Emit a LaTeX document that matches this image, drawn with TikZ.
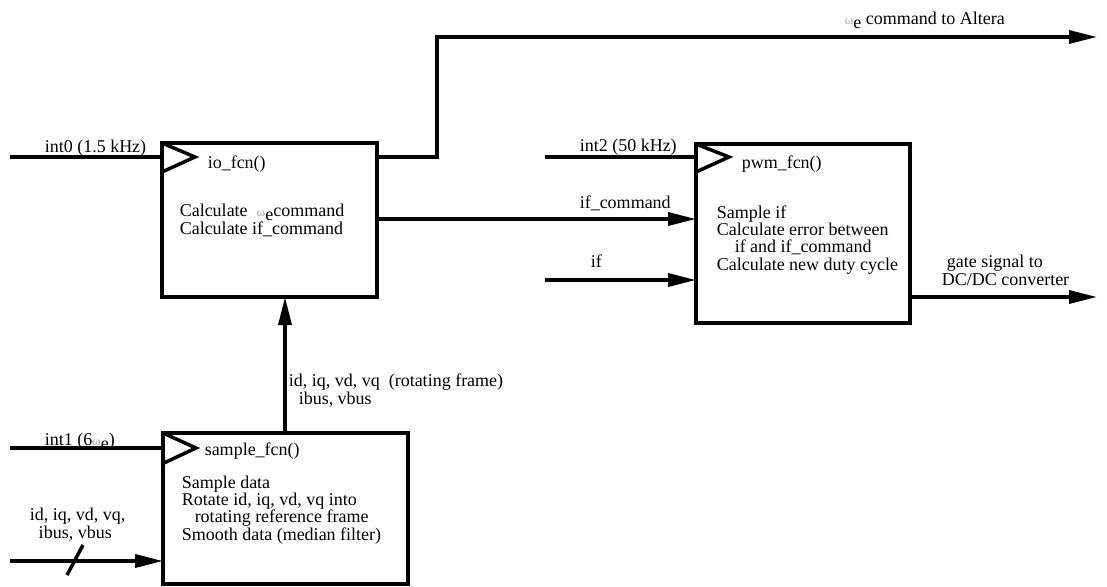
\documentclass[tikz,border=0pt]{standalone}
\usepackage{fontspec}
\setmainfont{Liberation Serif}
\usetikzlibrary{arrows.meta,calc}
\definecolor{omg}{gray}{0.68}
\newcommand{\om}{{\color{omg}\fontsize{13}{13}\selectfont ω}}
\newcommand{\sube}{\raisebox{-4pt}{e}}
\begin{document}
\begin{tikzpicture}[x=1pt,y=-1pt, line width=3.5pt,
 box/.style={draw, line width=3.5pt, anchor=north west, inner sep=0pt, outer sep=0pt},
 txt/.style={anchor=base west, inner sep=0pt, font=\fontsize{18}{17.3}\selectfont, align=left},
 arr/.style={-{Triangle[length=28pt,width=13pt]}, line width=3.5pt},
 clk/.style={line width=3.5pt, line join=miter}]
\useasboundingbox (0,0) rectangle (1107,586);

% boxes
\node[box, minimum width=215pt, minimum height=154pt] (io) at (162,143) {};
\node[box, minimum width=214pt, minimum height=179pt] (pwm) at (696,144) {};
\node[box, minimum width=245pt, minimum height=151pt] (smp) at (163,433) {};

% free ends
\coordinate (in0) at (10,157);
\coordinate (alt) at (1097,37);
\coordinate (in2) at (545,157);
\coordinate (inif) at (545,280);
\coordinate (gate) at (1097,297);
\coordinate (in1) at (10,448);
\coordinate (in3) at (10,561);
\coordinate (sla) at (83,545);
\coordinate (slb) at (67,575);

% io_fcn
\draw (in0) -- (in0 -| io.west);
\draw[clk] (io.north west) -- ++(33,14) -- ++(-33,15);
\draw[arr] (io.east |- in0) -- ++(60,0) |- (alt);
\draw[arr] (io.north east) ++(0,76) coordinate (ifc) -- (ifc -| pwm.west);

% pwm_fcn
\draw (in2) -- (in2 -| pwm.west);
\draw[clk] (pwm.north west) -- ++(33,13) -- ++(-33,15);
\draw[arr] (inif) -- (inif -| pwm.west);
\draw[arr] (gate -| pwm.east) -- (gate);

% sample_fcn
\draw[arr] (smp.north west) ++(122,0) coordinate (up) -- (up |- io.south);
\draw (in1) -- (in1 -| smp.west);
\draw[clk] (smp.north west) -- ++(33,15) -- ++(-32,15);
\draw[arr] (in3) -- (in3 -| smp.west);
\draw (sla) -- (slb);

% texts (multi-line nodes: base = baseline of last line)
\node[txt] (lalt) at (843,25) {\om\sube{} command to Altera};
\node[txt] (lint0) at (43,152) {int0 (1.5 kHz)};
\node[txt] (lio) at (206,168) {io\_fcn()};
\node[txt] (tio) at (178,234) {Calculate \ \om\sube command\\Calculate if\_command};
\node[txt] (lint2) at (578,151) {int2 (50 kHz)};
\node[txt] (lifc) at (578,208) {if\_command};
\node[txt] (lif) at (589,267) {if};
\node[txt] (lpwm) at (740,168) {pwm\_fcn()};
\node[txt] (tpwm) at (715,270) {Sample if\\Calculate error between\\\hspace*{18pt}if and if\_command\\Calculate new duty cycle};
\node[txt] (lgate) at (945,267) {gate signal to};
\node[txt] (lgate2) at (940,285) {DC/DC converter};
\node[txt] (lrot) at (287,404) {id, iq, vd, vq \ (rotating frame)\\\hspace*{10pt}ibus, vbus};
\node[txt] (lint1) at (43,445) {int1 (6\om\sube)};
\node[txt] (lsmp) at (203,455) {sample\_fcn()};
\node[txt] (tsmp) at (180,540) {Sample data\\Rotate id, iq, vd, vq into\\\hspace*{13pt}rotating reference frame\\Smooth data (median filter)};
\node[txt] (lin3) at (28,538) {id, iq, vd, vq,\\\hspace*{9pt}ibus, vbus};
\end{tikzpicture}
\end{document}
